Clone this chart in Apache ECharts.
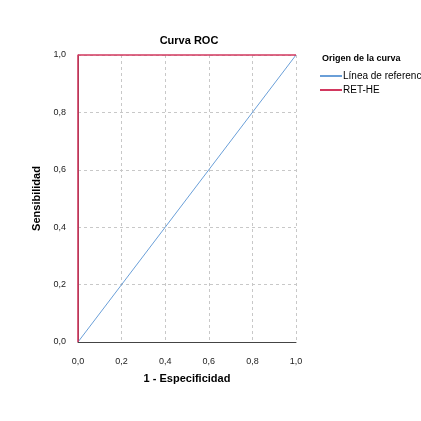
<!DOCTYPE html>
<html><head><meta charset="utf-8">
<script src="https://cdn.jsdelivr.net/npm/echarts@6/dist/echarts.min.js"></script>
<style>html,body{margin:0;padding:0;background:#fff}#c{width:421px;height:421px}</style>
</head><body><div id="c"></div>
<script>
const ticks = [0, 0.2, 0.4, 0.6, 0.8, 1.0];
const refLine = [[0, 0], [1, 1]];
const retHe = [[0, 0], [0, 1], [1, 1]];
const seriesNames = ['Línea de referencia', 'RET-HE'];
const fmt = v => v.toFixed(1).replace('.', ',');
const chart = echarts.init(document.getElementById('c'));
const axisCommon = {
  type: 'value', min: ticks[0], max: ticks[ticks.length - 1], interval: 0.2,
  axisLine: {show: true, lineStyle: {color: '#444', width: 1}},
  axisTick: {show: false},
  splitLine: {show: true, lineStyle: {type: [3, 3], color: '#c8c8c8', width: 1}},
  nameTextStyle: {fontWeight: 'bold', fontSize: 11, color: '#000', fontFamily: 'Arial'},
};
chart.setOption({
  animation: false,
  title: {text: 'Curva ROC', left: 184, top: 30, textAlign: 'center',
    textStyle: {fontSize: 11, fontWeight: 'bold', color: '#000', fontFamily: 'Arial'}},
  grid: {left: 78, top: 55, right: 125, bottom: 79},
  xAxis: Object.assign({}, axisCommon, {
    offset: 9,
    name: '1 - Especificidad', nameLocation: 'middle', nameGap: 22,
    axisLabel: {formatter: fmt, fontSize: 9, color: '#222', fontFamily: 'Arial', margin: 6}
  }),
  yAxis: Object.assign({}, axisCommon, {
    offset: 7,
    name: 'Sensibilidad', nameLocation: 'middle', nameGap: 25,
    axisLabel: {formatter: fmt, fontSize: 9, color: '#222', fontFamily: 'Arial', margin: 5}
  }),
  graphic: [{type: 'text', left: 322, top: 54,
    style: {text: 'Origen de la curva', font: 'bold 9px Arial', fill: '#000'}}],
  legend: {orient: 'vertical', left: 320, top: 71, itemWidth: 22, itemHeight: 2, itemGap: 4,
    icon: 'rect', data: seriesNames, padding: 0,
    textStyle: {fontSize: 10, color: '#000', fontFamily: 'Arial', padding: [0,0,0,-4], width: 120, overflow: 'none'}},
  series: [
    {name: seriesNames[0], type: 'line', data: refLine, symbol: 'none', clip: false,
      lineStyle: {color: '#6a9fd8', width: 1}, itemStyle: {color: '#6a9fd8'}, z: 3},
    {name: seriesNames[1], type: 'line', data: retHe, symbol: 'none', clip: false,
      lineStyle: {color: '#d2385f', width: 1.6}, itemStyle: {color: '#d2385f'}, z: 4}
  ]
});
</script></body></html>
